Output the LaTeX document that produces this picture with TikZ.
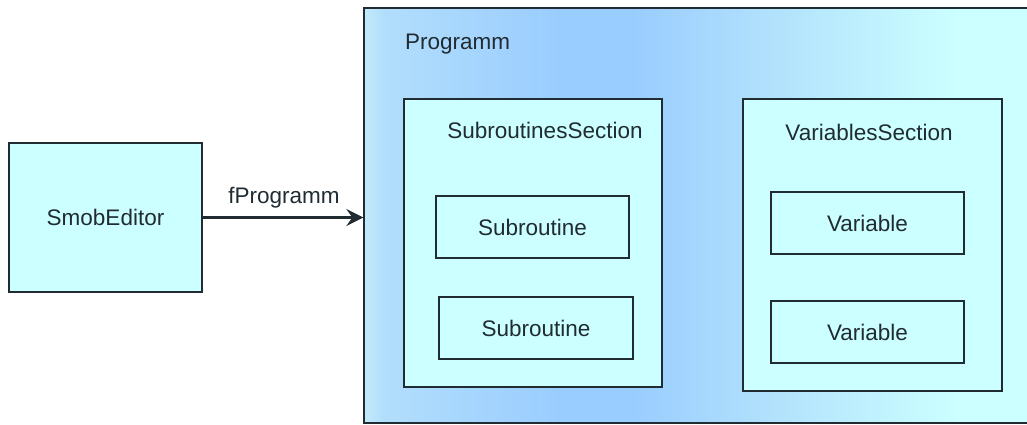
\documentclass[tikz,border=0pt]{standalone}
\usepackage{fontspec}
\setmainfont{Liberation Sans}
\usetikzlibrary{arrows.meta}

\definecolor{boxfill}{RGB}{204,255,255}
\definecolor{ink}{RGB}{32,44,50}
\definecolor{progA}{RGB}{195,234,250}
\definecolor{progA2}{RGB}{178,222,252}
\definecolor{progB}{RGB}{153,204,255}
\definecolor{progC}{RGB}{176,224,252}
\definecolor{progD}{RGB}{204,255,255}
% the shaded path covers the 25bp..75bp band of the shading
\pgfdeclarehorizontalshading{progshade}{100bp}{%
  color(0bp)=(progA); color(25bp)=(progA); color(26.5bp)=(progA2);
  color(40bp)=(progB); color(44.5bp)=(progB); color(54.5bp)=(progC);
  color(69bp)=(progD); color(100bp)=(progD)}

\begin{document}
\begin{tikzpicture}[x=1pt,y=-1pt]
\tikzset{
  frame/.style={draw=ink, line width=1.3pt, fill=boxfill, inner sep=0pt,
                text=ink, font=\fontsize{22.5}{26}\selectfont},
  title/.style={text=ink, inner sep=0pt, font=\fontsize{22.5}{26}\selectfont},
}
\useasboundingbox (0,0) rectangle (1027,424);

% outer program container, running off the right edge
\node[draw=ink, line width=1.3pt, shade, shading=progshade, inner sep=0pt,
      minimum width=676pt, minimum height=415pt] (prog) at (702,215.5) {};
\node[title, anchor=west] (progtitle) at (405,44) {Programm};

% editor
\node[frame, minimum width=193pt, minimum height=149pt] (smob) at (105.5,217.5) {SmobEditor};

% subroutine section
\node[frame, minimum width=258pt, minimum height=288pt] (subs) at (533,243) {};
\node[title] (substitle) at (545,130) {SubroutinesSection};
\node[frame, minimum width=193pt, minimum height=62pt] (sub1) at (532.5,227) {Subroutine};
\node[frame, minimum width=194pt, minimum height=62pt] (sub2) at (536,328) {Subroutine};

% variable section
\node[frame, minimum width=259pt, minimum height=292pt] (vars) at (872.5,245) {};
\node[title] (varstitle) at (869,132) {VariablesSection};
\node[frame, minimum width=193pt, minimum height=62pt] (var1) at (867.5,223) {Variable};
\node[frame, minimum width=193pt, minimum height=62pt] (var2) at (867.5,332) {Variable};

% reference from the editor to the program
\draw[ink, line width=3.5pt, -{Stealth[length=17pt,width=17pt,inset=6pt]}]
  (smob.east) -- (smob.east -| prog.west);
\node[title] (reflabel) at (284,198) {fProgramm};
\end{tikzpicture}
\end{document}
